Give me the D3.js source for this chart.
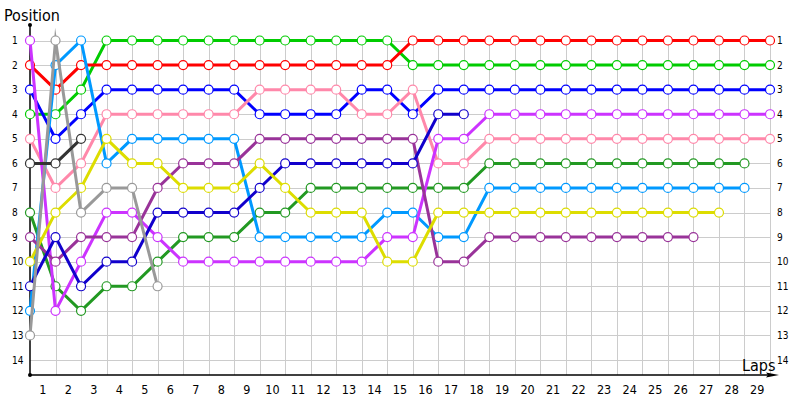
<!DOCTYPE html>
<html><head><meta charset="utf-8">
<script src="https://cdn.jsdelivr.net/npm/d3@7"></script>
<style>
body{margin:0;background:#fff;}
svg{display:block;font-family:"DejaVu Sans Condensed","DejaVu Sans",sans-serif;}
</style></head>
<body><svg id="c" width="800" height="400"></svg>
<script>
// Data: positions per lap (lap 0 = start)
const laps = d3.range(0, 30);
const lapLabels = d3.range(1, 30);
const positions = d3.range(1, 15);

const seriesNames = ["dkgreen","green","blue","red","pink","lightblue","purple","dkpurple","navy","yellow","gray","darkgray"];
const seriesColors = ["#229922","#00cc00","#0000ff","#ff0000","#ff88aa","#0099ff","#cc33ff","#993399","#1100cc","#dddd00","#999999","#333333"];

const dkgreen   = [8,11,12,11,11,10,9,9,9,8,8,7,7,7,7,7,7,7,6,6,6,6,6,6,6,6,6,6,6];
const green     = [4,4,3,1,1,1,1,1,1,1,1,1,1,1,1,2,2,2,2,2,2,2,2,2,2,2,2,2,2,2];
const blue      = [3,5,4,3,3,3,3,3,3,4,4,4,4,3,3,4,3,3,3,3,3,3,3,3,3,3,3,3,3,3];
const red       = [2,3,2,2,2,2,2,2,2,2,2,2,2,2,2,1,1,1,1,1,1,1,1,1,1,1,1,1,1,1];
const pink      = [5,7,6,4,4,4,4,4,4,3,3,3,3,4,4,3,6,6,5,5,5,5,5,5,5,5,5,5,5,5];
const lightblue = [12,2,1,6,5,5,5,5,5,9,9,9,9,9,8,8,9,9,7,7,7,7,7,7,7,7,7,7,7];
const purple    = [1,12,10,8,8,9,10,10,10,10,10,10,10,10,9,9,5,5,4,4,4,4,4,4,4,4,4,4,4,4];
const dkpurple  = [9,10,9,9,9,7,6,6,6,5,5,5,5,5,5,5,10,10,9,9,9,9,9,9,9,9,9];
const navy      = [11,9,11,10,10,8,8,8,8,7,6,6,6,6,6,6,4,4];
const yellow    = [10,8,7,5,6,6,7,7,7,6,7,8,8,8,10,10,8,8,8,8,8,8,8,8,8,8,8,8];
const gray      = [13,1,8,7,7,11];
const darkgray  = [6,6,5];

const seriesValues = [dkgreen,green,blue,red,pink,lightblue,purple,dkpurple,navy,yellow,gray,darkgray];

const svg = d3.select("#c");
const x = d3.scaleLinear().domain([0, 29]).range([30, 770]);
const y = d3.scaleLinear().domain([1, 14]).range([40.5, 360]);
const axisY = 375;

// grid
const grid = svg.append("g").attr("stroke", "#cccccc").attr("stroke-width", 1).attr("shape-rendering","crispEdges");
grid.selectAll("line.h").data(positions).join("line")
  .attr("x1", x(0)).attr("x2", x(29))
  .attr("y1", d => Math.round(y(d)) + 0.5).attr("y2", d => Math.round(y(d)) + 0.5);
grid.selectAll("line.v").data(lapLabels).join("line")
  .attr("x1", d => Math.round(x(d)) + 0.5).attr("x2", d => Math.round(x(d)) + 0.5)
  .attr("y1", y(1)).attr("y2", axisY);

// axes
svg.append("line").attr("x1", x(0)).attr("x2", x(0)).attr("y1", 25).attr("y2", axisY)
  .attr("stroke", "#000").attr("stroke-width", 1.5);
svg.append("line").attr("x1", x(0)).attr("x2", 772).attr("y1", axisY).attr("y2", axisY)
  .attr("stroke", "#000").attr("stroke-width", 1.5);
svg.append("path").attr("d", `M766,372.5 L779,375 L766,377.5 L768,375 Z`).attr("fill", "#000");
svg.append("circle").attr("cx", x(0)).attr("cy", 25).attr("r", 2).attr("fill", "#000");
svg.append("circle").attr("cx", x(0)).attr("cy", axisY).attr("r", 2).attr("fill", "#000");

// axis titles
svg.append("text").attr("x", 4).attr("y", 21).attr("font-size", 16).attr("fill", "#000").text("Position");
svg.append("text").attr("x", 742).attr("y", 371).attr("font-size", 16).attr("fill", "#000").text("Laps");

// y labels (left & right)
svg.append("g").selectAll("text").data(positions).join("text")
  .attr("x", 12).attr("y", d => y(d) + 3.5).attr("font-size", 10).attr("fill", "#000").text(d => d);
svg.append("g").selectAll("text").data(positions).join("text")
  .attr("x", 777).attr("y", d => y(d) + 3.5).attr("font-size", 10).attr("fill", "#000").text(d => d);

// x labels
svg.append("g").selectAll("text").data(lapLabels).join("text")
  .attr("x", d => x(d - 0.5)).attr("y", 393.5).attr("text-anchor", "middle")
  .attr("font-size", 12.5).attr("fill", "#000").text(d => d);

// series
const line = d3.line().x((d, i) => x(i)).y(d => y(d));
seriesValues.forEach((vals, k) => {
  const g = svg.append("g");
  g.append("path").attr("d", line(vals)).attr("fill", "none")
    .attr("stroke", seriesColors[k]).attr("stroke-width", 3)
    .attr("stroke-miterlimit", 10);
  g.selectAll("circle").data(vals).join("circle")
    .attr("cx", (d, i) => x(i)).attr("cy", d => y(d)).attr("r", 4.5)
    .attr("fill", "#fff").attr("stroke", seriesColors[k]).attr("stroke-width", 1.2);
});
</script></body></html>
